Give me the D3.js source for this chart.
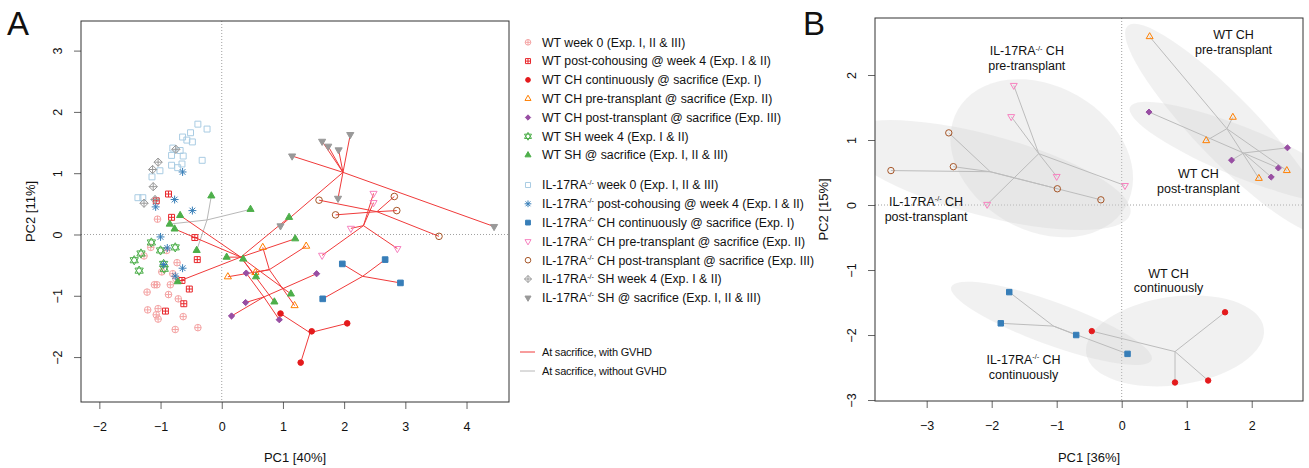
<!DOCTYPE html>
<html>
<head>
<meta charset="utf-8">
<script src="https://cdn.jsdelivr.net/npm/d3@7"></script>
<style>
  body { margin: 0; background: #fff; }
  text { font-family: "Liberation Sans", Arial, Helvetica, sans-serif; fill: #111; }
</style>
</head>
<body>
<div id="chart"></div>
<script>
// ---------- panel A : PCA of all samples (PC1, PC2) ----------
var wtWeek0 = [[-1.05,0.25],[-1.16,-0.21],[-1.27,-0.35],[-0.90,-0.26],[-0.73,-0.46],[-0.98,-0.61],[-0.80,-0.64],
  [-0.75,-0.72],[-1.10,-0.82],[-1.06,-0.82],[-0.84,-0.82],[-1.22,-0.94],[-0.87,-0.98],[-0.71,-1.05],[-1.21,-1.23],
  [-1.04,-1.21],[-1.07,-1.31],[-1.04,-1.38],[-0.63,-1.34],[-0.76,-1.55],[-0.39,-1.52]];
var wtCohousing = [[-0.87,0.66],[-1.07,0.55],[-0.82,0.28],[-0.44,-0.05],[-0.40,-0.41],[-0.65,-0.75],[-0.53,-0.89],
  [-0.62,-1.13],[-0.92,-1.25]];
var wtChCont = [[0.96,-1.29],[1.47,-1.58],[2.05,-1.45],[1.29,-2.09]];
var wtChPre = [[0.67,-0.21],[1.38,-0.19],[0.10,-0.69],[0.55,-0.62],[1.19,-1.16]];
var wtChPost = [[0.40,-0.63],[1.55,-0.64],[0.39,-1.11],[0.16,-1.33],[0.94,-1.39]];
var wtShWeek4 = [[-1.15,-0.13],[-1.00,-0.26],[-0.76,-0.21],[-1.32,-0.31],[-1.43,-0.42],[-0.95,-0.48],[-0.94,-0.56],[-1.35,-0.59]];
var wtShSac = [[-0.17,0.63],[0.47,0.41],[-0.68,0.31],[-0.85,0.17],[-0.77,0.09],[-0.41,-0.26],[0.08,-0.37],[0.35,-0.40],
  [-0.72,-0.77],[1.10,0.28],[1.20,-0.07],[0.56,-0.69],[1.13,-0.97],[0.86,-1.10]];
var wtShSacGvhd = [0,0,1,0,1,0,1,1,1,1,1,1,1,1];
var ilWeek0 = [[-0.39,1.80],[-0.24,1.72],[-0.51,1.66],[-0.64,1.59],[-0.57,1.54],[-0.48,1.51],[-0.80,1.41],[-0.68,1.37],
  [-0.82,1.29],[-0.63,1.28],[-0.32,1.21],[-0.82,1.13],[-0.65,1.15],[-0.72,1.09],[-1.01,1.04],[-1.14,0.94],[-1.37,0.60],[-1.29,0.60]];
var ilCohousing = [[-0.64,1.02],[-0.77,0.57],[-1.08,0.45],[-0.48,0.39],[-1.00,-0.04],[-0.89,-0.22],[-0.95,-0.49],[-0.64,-0.55],[-0.76,-0.68]];
var ilChCont = [[1.97,-0.48],[2.67,-0.41],[2.92,-0.79],[1.65,-1.05]];
var ilChPre = [[2.48,0.67],[2.48,0.52],[2.11,0.10],[2.87,-0.23],[1.64,-0.34]];
var ilChPost = [[1.59,0.56],[2.82,0.62],[1.86,0.32],[2.86,0.39],[3.55,-0.03]];
var ilShWeek4 = [[-0.75,1.39],[-1.04,1.18],[-1.13,1.06],[-1.12,0.78],[-1.09,0.57],[-1.27,0.51]];
var ilShSac = [[1.15,1.28],[1.64,1.52],[1.74,1.44],[1.91,1.38],[2.10,1.63],[1.90,0.59],[4.45,0.13],[0.96,0.14]];

var legendLabelsA = [
  "WT week 0 (Exp. I, II & III)", "WT post-cohousing @ week 4 (Exp. I & II)", "WT CH continuously @ sacrifice (Exp. I)",
  "WT CH pre-transplant @ sacrifice (Exp. II)", "WT CH post-transplant @ sacrifice (Exp. III)", "WT SH week 4 (Exp. I & II)",
  "WT SH @ sacrifice (Exp. I, II & III)",
  "IL-17RA-/- week 0 (Exp. I, II & III)", "IL-17RA-/- post-cohousing @ week 4 (Exp. I & II)",
  "IL-17RA-/- CH continuously @ sacrifice (Exp. I)", "IL-17RA-/- CH pre-transplant @ sacrifice (Exp. II)",
  "IL-17RA-/- CH post-transplant @ sacrifice (Exp. III)", "IL-17RA-/- SH week 4 (Exp. I & II)",
  "IL-17RA-/- SH @ sacrifice (Exp. I, II & III)"];
var lineLabelsA = ["At sacrifice, with GVHD", "At sacrifice, without GVHD"];

// ---------- panel B : PCA of CH samples at sacrifice ----------
var bIlPost = [[-3.55,0.53],[-2.66,1.11],[-2.59,0.59],[-0.99,0.25],[-0.32,0.08]];
var bIlPre = [[-1.66,1.84],[-1.70,1.36],[-1.00,0.44],[0.05,0.30],[-2.07,0.01]];
var bWtPre = [[0.43,2.59],[1.71,1.35],[1.30,0.99],[2.54,0.53],[2.11,0.41]];
var bWtPost = [[0.42,1.43],[2.55,0.88],[1.69,0.69],[2.41,0.57],[2.30,0.43]];
var bIlCont = [[-1.73,-1.34],[-1.86,-1.82],[-0.70,-2.00],[0.09,-2.29]];
var bWtCont = [[-0.46,-1.94],[1.59,-1.65],[0.82,-2.73],[1.33,-2.70]];
// ellipses: centre x, centre y, semi-major, semi-minor, angle (deg)
var bEllipses = [[-2.10,0.46,2.31,0.62,-15],[-1.23,0.72,1.49,1.11,-30],[1.62,1.17,2.20,0.48,-46],
  [1.87,0.80,1.88,0.38,-22],[-1.08,-1.82,1.64,0.33,-20],[0.82,-2.09,1.38,0.68,8]];
var bLabels = [
  {lines: ["IL-17RA-/- CH", "pre-transplant"], x: -1.46, y: 2.37},
  {lines: ["WT CH", "pre-transplant"], x: 1.72, y: 2.62},
  {lines: ["WT CH", "post-transplant"], x: 1.18, y: 0.48},
  {lines: ["IL-17RA-/- CH", "post-transplant"], x: -3.01, y: 0.05},
  {lines: ["WT CH", "continuously"], x: 0.72, y: -1.05},
  {lines: ["IL-17RA-/- CH", "continuously"], x: -1.51, y: -2.38}];

var ticksAx = [-2, -1, 0, 1, 2, 3, 4], ticksAy = [-2, -1, 0, 1, 2, 3];
var ticksBx = [-3, -2, -1, 0, 1, 2], ticksBy = [-3, -2, -1, 0, 1, 2];

var RED = "#f03a3a", GREY = "#b8b8b8";

// series table (built from the arrays above)
var seriesA = [
  {pts: wtWeek0, pch: 10, col: "#f4a3a3"},
  {pts: wtCohousing, pch: 12, col: "#e8262b"},
  {pts: wtChCont, pch: 16, col: "#e41a1c", spider: true},
  {pts: wtChPre, pch: 2, col: "#ff7f00", spider: true},
  {pts: wtChPost, pch: 18, col: "#984ea3", spider: true},
  {pts: wtShWeek4, pch: 11, col: "#4daf4a"},
  {pts: wtShSac, pch: 17, col: "#4daf4a", spider: true, gvhd: wtShSacGvhd},
  {pts: ilWeek0, pch: 0, col: "#a9cce3"},
  {pts: ilCohousing, pch: 8, col: "#377eb8"},
  {pts: ilChCont, pch: 15, col: "#377eb8", spider: true},
  {pts: ilChPre, pch: 6, col: "#f781bf", spider: true},
  {pts: ilChPost, pch: 1, col: "#a65628", spider: true},
  {pts: ilShWeek4, pch: 9, col: "#999999"},
  {pts: ilShSac, pch: 25, col: "#999999", spider: true}
];
seriesA.forEach(function (s, i) { s.label = legendLabelsA[i]; });

var seriesB = [
  {pts: bIlPost, pch: 1, col: "#a65628"},
  {pts: bIlPre, pch: 6, col: "#f781bf"},
  {pts: bWtPre, pch: 2, col: "#ff7f00"},
  {pts: bWtPost, pch: 18, col: "#984ea3"},
  {pts: bIlCont, pch: 15, col: "#377eb8"},
  {pts: bWtCont, pch: 16, col: "#e41a1c"}
];

var svg = d3.select("#chart").append("svg")
  .attr("width", 1309).attr("height", 468);

// scales
var xA = d3.scaleLinear().domain([-2.3, 4.694]).range([81, 509]);
var yA = d3.scaleLinear().domain([-2.733, 3.483]).range([402, 21]);
var xB = d3.scaleLinear().domain([-3.795, 2.789]).range([875, 1303]);
var yB = d3.scaleLinear().domain([-3.015, 2.877]).range([401, 18]);

// R-like plotting symbols
function drawSym(g, pch, cx, cy, r, col) {
  var p = g.append("path").attr("transform", "translate(" + cx + "," + cy + ")")
    .attr("stroke", col).attr("stroke-width", 1).attr("fill", "none");
  var T = r * 1.25, h = r * 0.9, d = "";
  var circ = function (rr) { return "M" + (-rr) + ",0A" + rr + "," + rr + " 0 1,0 " + rr + ",0A" + rr + "," + rr + " 0 1,0 " + (-rr) + ",0Z"; };
  var triUp = "M0," + (-T) + "L" + (T * 0.866) + "," + (T * 0.5) + "L" + (-T * 0.866) + "," + (T * 0.5) + "Z";
  var triDn = "M0," + T + "L" + (T * 0.866) + "," + (-T * 0.5) + "L" + (-T * 0.866) + "," + (-T * 0.5) + "Z";
  var sq = function (hh) { return "M" + (-hh) + "," + (-hh) + "H" + hh + "V" + hh + "H" + (-hh) + "Z"; };
  var plus = function (hh) { return "M" + (-hh) + ",0H" + hh + "M0," + (-hh) + "V" + hh; };
  switch (pch) {
    case 0: d = sq(h); break;
    case 1: d = circ(r); break;
    case 2: d = triUp; break;
    case 6: d = triDn; break;
    case 8: var rs = r * 1.2, a = rs * 0.72;
      d = plus(rs) + "M" + (-a) + "," + (-a) + "L" + a + "," + a + "M" + (-a) + "," + a + "L" + a + "," + (-a); break;
    case 9: var q = r * 1.25;
      d = "M0," + (-q) + "L" + q + ",0L0," + q + "L" + (-q) + ",0Z" + plus(q); break;
    case 10: d = circ(r) + plus(r); break;
    case 11: var t = r * 1.4;
      d = "M0," + (-t) + "L" + (t * 0.9) + "," + (t * 0.55) + "L" + (-t * 0.9) + "," + (t * 0.55) + "Z" +
          "M0," + t + "L" + (t * 0.9) + "," + (-t * 0.55) + "L" + (-t * 0.9) + "," + (-t * 0.55) + "Z"; break;
    case 12: d = sq(h) + plus(h); break;
    case 15: d = sq(h * 0.95); p.attr("fill", col); break;
    case 16: d = circ(r * 0.85); p.attr("fill", col); break;
    case 17: d = triUp; p.attr("fill", col); break;
    case 18: var k = r * 0.95;
      d = "M0," + (-k) + "L" + k + ",0L0," + k + "L" + (-k) + ",0Z"; p.attr("fill", col); break;
    case 25: d = triDn; p.attr("fill", col); break;
  }
  p.attr("d", d);
}

// label with "-/-" superscript
function addLabel(sel, str, fs) {
  var parts = str.split("-/-");
  sel.append("tspan").text(parts[0]);
  if (parts.length > 1) {
    sel.append("tspan").attr("dy", -fs * 0.38).style("font-size", (fs * 0.58) + "px").text("-/-");
    sel.append("tspan").attr("dy", fs * 0.38).text(parts[1]);
  }
}

// spider: lines from group centroid to each point
function spider(g, pts, flags, xs, ys, col0, col1) {
  var items = pts.map(function (p, i) { return {p: p, f: flags ? flags[i] : 1}; });
  d3.group(items, function (d) { return d.f; }).forEach(function (arr, f) {
    var cx = d3.mean(arr, function (d) { return d.p[0]; });
    var cy = d3.mean(arr, function (d) { return d.p[1]; });
    g.selectAll(null).data(arr).enter().append("line")
      .attr("x1", xs(cx)).attr("y1", ys(cy))
      .attr("x2", function (d) { return xs(d.p[0]); })
      .attr("y2", function (d) { return ys(d.p[1]); })
      .attr("stroke", f ? col1 : col0).attr("stroke-width", 1);
  });
}

function frame(xs, ys, tx, ty, id) {
  var g = svg.append("g");
  var x0 = xs.range()[0], x1 = xs.range()[1], yb = ys.range()[0], yt = ys.range()[1];
  svg.append("clipPath").attr("id", id).append("rect")
    .attr("x", x0).attr("y", yt).attr("width", x1 - x0).attr("height", yb - yt);
  // zero lines
  g.append("line").attr("x1", xs(0)).attr("x2", xs(0)).attr("y1", yt).attr("y2", yb)
    .attr("stroke", "#a0a0a0").attr("stroke-dasharray", "1,2");
  g.append("line").attr("x1", x0).attr("x2", x1).attr("y1", ys(0)).attr("y2", ys(0))
    .attr("stroke", "#a0a0a0").attr("stroke-dasharray", "1,2");

  var fmt = d3.format("d");
  var ax = svg.append("g").attr("transform", "translate(0," + yb + ")")
    .call(d3.axisBottom(xs).tickValues(tx).tickFormat(fmt).tickSize(7).tickPadding(13));
  var ay = svg.append("g").attr("transform", "translate(" + x0 + ",0)")
    .call(d3.axisLeft(ys).tickValues(ty).tickFormat(fmt).tickSize(7));
  [ax, ay].forEach(function (a) {
    a.select(".domain").remove();
    a.selectAll(".tick line").attr("stroke", "#666");
    a.selectAll("text").style("font-size", "12.5px").attr("fill", "#111");
  });
  ay.selectAll("text").attr("x", null).attr("dy", "0.35em")
    .attr("text-anchor", "middle").attr("transform", "translate(-23.5,0) rotate(-90)");
  return {g: g, x0: x0, x1: x1, yt: yt, yb: yb};
}

function box(f) {
  svg.append("rect").attr("x", f.x0).attr("y", f.yt).attr("width", f.x1 - f.x0).attr("height", f.yb - f.yt)
    .attr("fill", "none").attr("stroke", "#333").attr("stroke-width", 1);
}

// ---------- draw panel A ----------
var fA = frame(xA, yA, ticksAx, ticksAy, "clipA");
var gA = svg.append("g").attr("clip-path", "url(#clipA)");
seriesA.forEach(function (s) {
  if (s.spider) spider(gA, s.pts, s.gvhd, xA, yA, GREY, RED);
});
seriesA.forEach(function (s) {
  s.pts.forEach(function (p) { drawSym(gA, s.pch, xA(p[0]), yA(p[1]), 3.3, s.col); });
});
box(fA);

svg.append("text").attr("x", (fA.x0 + fA.x1) / 2).attr("y", 457).attr("dy", "0.35em")
  .attr("text-anchor", "middle").style("font-size", "13px").text("PC1 [40%]");
svg.append("text").attr("transform", "translate(30," + ((fA.yt + fA.yb) / 2) + ") rotate(-90)")
  .attr("dy", "0.35em").attr("text-anchor", "middle").style("font-size", "13px").text("PC2 [11%]");

// legend
var legend = svg.append("g").attr("class", "legendA");
seriesA.forEach(function (s, i) {
  var y = i < 7 ? 42.3 + i * 18.8 : 185 + (i - 7) * 18.8;
  drawSym(legend, s.pch, 528, y, 2.8, s.col);
  var t = legend.append("text").attr("x", 542).attr("y", y).attr("dy", "0.35em").style("font-size", "12.3px");
  addLabel(t, s.label, 12.3);
});
lineLabelsA.forEach(function (lab, i) {
  var y = 352 + i * 19;
  legend.append("line").attr("x1", 520).attr("x2", 535).attr("y1", y).attr("y2", y)
    .attr("stroke", i === 0 ? RED : GREY).attr("stroke-width", 1);
  legend.append("text").attr("x", 542).attr("y", y).attr("dy", "0.35em")
    .style("font-size", "11px").style("letter-spacing", "-0.2px").text(lab);
});

// ---------- draw panel B ----------
var fB = frame(xB, yB, ticksBx, ticksBy, "clipB");
var gB = svg.append("g").attr("clip-path", "url(#clipB)");
var pxB = xB(1) - xB(0);
gB.selectAll("ellipse").data(bEllipses).enter().append("ellipse")
  .attr("transform", function (e) { return "translate(" + xB(e[0]) + "," + yB(e[1]) + ") rotate(" + (-e[4]) + ")"; })
  .attr("rx", function (e) { return e[2] * pxB; })
  .attr("ry", function (e) { return e[3] * pxB; })
  .attr("fill", "#cfcfcf").attr("fill-opacity", 0.3);
seriesB.forEach(function (s) { spider(gB, s.pts, null, xB, yB, GREY, "#bcbcbc"); });
seriesB.forEach(function (s) {
  s.pts.forEach(function (p) { drawSym(gB, s.pch, xB(p[0]), yB(p[1]), 3.2, s.col); });
});
bLabels.forEach(function (l) {
  l.lines.forEach(function (ln, j) {
    var t = gB.append("text").attr("x", xB(l.x)).attr("y", yB(l.y) + j * 14.5).attr("dy", "0.35em")
      .attr("text-anchor", "middle").style("font-size", "12.5px");
    addLabel(t, ln, 12.5);
  });
});
box(fB);

svg.append("text").attr("x", (fB.x0 + fB.x1) / 2).attr("y", 457).attr("dy", "0.35em")
  .attr("text-anchor", "middle").style("font-size", "13px").text("PC1 [36%]");
svg.append("text").attr("transform", "translate(823," + ((fB.yt + fB.yb) / 2) + ") rotate(-90)")
  .attr("dy", "0.35em").attr("text-anchor", "middle").style("font-size", "13px").text("PC2 [15%]");

// panel letters
svg.append("text").attr("x", 7).attr("y", 35).style("font-size", "33px").text("A");
svg.append("text").attr("x", 803).attr("y", 35).style("font-size", "33px").text("B");
</script>
</body>
</html>
